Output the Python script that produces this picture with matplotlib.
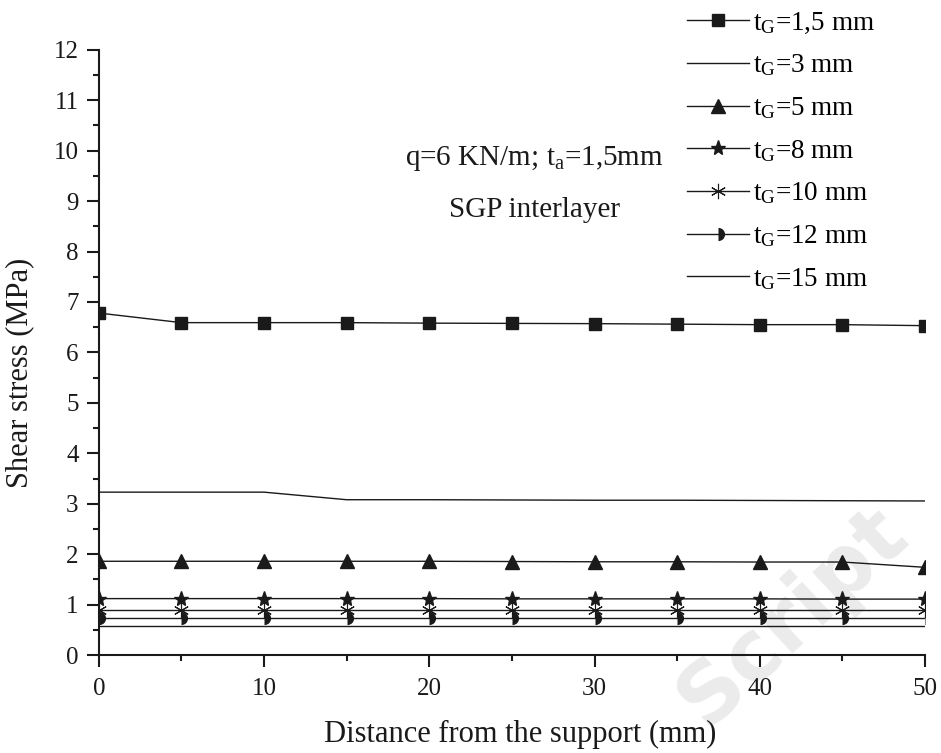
import matplotlib
matplotlib.use("Agg")
import matplotlib.pyplot as plt
import matplotlib.ticker as mticker

plt.rcParams['font.family'] = ['Liberation Serif', 'DejaVu Serif']
plt.rcParams['mathtext.fontset'] = 'custom'
plt.rcParams['mathtext.rm'] = 'Liberation Serif'
plt.rcParams['mathtext.it'] = 'Liberation Serif'

# Datos
distancia = [0, 5, 10, 15, 20, 25, 30, 35, 40, 45, 50]
t15 = [6.78, 6.59, 6.59, 6.59, 6.58, 6.575, 6.57, 6.56, 6.55, 6.55, 6.53]
t3 = [3.23, 3.23, 3.23, 3.08, 3.08, 3.075, 3.07, 3.07, 3.065, 3.06, 3.055]
t5 = [1.86, 1.86, 1.86, 1.86, 1.86, 1.855, 1.85, 1.85, 1.845, 1.845, 1.74]
t8 = [1.12, 1.12, 1.12, 1.12, 1.12, 1.115, 1.115, 1.115, 1.115, 1.11, 1.11]
t10 = [0.885, 0.885, 0.885, 0.885, 0.885, 0.885, 0.885, 0.885, 0.885, 0.885, 0.885]
t12 = [0.73, 0.73, 0.73, 0.73, 0.73, 0.73, 0.73, 0.73, 0.73, 0.73, 0.73]
t15b = [0.58, 0.58, 0.58, 0.58, 0.58, 0.58, 0.58, 0.58, 0.58, 0.58, 0.58]
etiquetas = ["1,5", "3", "5", "8", "10", "12", "15"]

fig = plt.figure(figsize=(9.41, 7.53), dpi=100)
ax = fig.add_axes([0.105, 0.130, 0.878, 0.804])
ax.set_zorder(2)
ax.patch.set_alpha(0)

# Marca de agua (detras de la grafica)
fig.text(0.968, 0.285, "Script", fontsize=60, fontweight='bold', color='#ebebeb',
         family='DejaVu Sans', rotation=43, rotation_mode='anchor',
         ha='right', va='baseline', zorder=1)

c = '#1a1a1a'
lw = 1.0
def lab(i):
    return "t$_\\mathrm{G}$=" + etiquetas[i] + " mm"

ax.plot(distancia, t15, color=c, lw=lw, marker='s', markersize=8.6, label=lab(0))
ax.plot(distancia, t3, color=c, lw=lw, label=lab(1))
ax.plot(distancia, t5, color=c, lw=lw, marker='^', markersize=10, label=lab(2))
ax.plot(distancia, t8, color=c, lw=lw, marker='*', markersize=11, label=lab(3))
ax.plot(distancia, t10, color=c, lw=lw, marker=(6, 2, 0), markersize=11, markeredgewidth=0.8,
        label=lab(4))
ax.plot(distancia, t12, color=c, lw=lw, marker='o', markersize=9.5, fillstyle='right',
        markerfacecoloralt='none', markeredgewidth=0, markerfacecolor=c, label=lab(5))
ax.plot(distancia, t15b, color=c, lw=lw, label=lab(6))

ax.set_xlim(0, 50)
ax.set_ylim(0, 12)
ax.xaxis.set_major_locator(mticker.MultipleLocator(10))
ax.xaxis.set_minor_locator(mticker.MultipleLocator(5))
ax.yaxis.set_major_locator(mticker.MultipleLocator(1))
ax.yaxis.set_minor_locator(mticker.MultipleLocator(0.5))
ax.spines['top'].set_visible(False)
ax.spines['right'].set_visible(False)
for s in ['left', 'bottom']:
    ax.spines[s].set_linewidth(1.5)
    ax.spines[s].set_color(c)
ax.tick_params(which='major', direction='out', length=8.6, width=1.5, labelsize=18, colors=c)
ax.tick_params(which='minor', direction='out', length=4.5, width=1.5, colors=c)
ax.tick_params(axis='x', which='major', pad=8)
ax.tick_params(axis='y', which='major', pad=6)

ax.set_xlabel("Distance from the support (mm)", fontsize=22, color=c)
ax.xaxis.set_label_coords(0.51, -0.107)
ax.set_ylabel("Shear stress (MPa)", fontsize=22, color=c)
ax.yaxis.set_label_coords(-0.078, 0.467)

ax.text(0.527, 0.821, "q=6 KN/m; t$_\\mathrm{a}$=1,5mm", transform=ax.transAxes, fontsize=21,
        ha='center', va='center', color=c)
ax.text(0.527, 0.736, "SGP interlayer", transform=ax.transAxes, fontsize=21,
        ha='center', va='center', color=c)

leg = fig.legend(loc='upper left', bbox_to_anchor=(0.730, 0.986), frameon=False, fontsize=19.5,
                 handlelength=2.3, handletextpad=0.15, labelspacing=0.62, borderpad=0,
                 borderaxespad=0)
leg.set_zorder(3)

plt.savefig("out.png", dpi=100)
